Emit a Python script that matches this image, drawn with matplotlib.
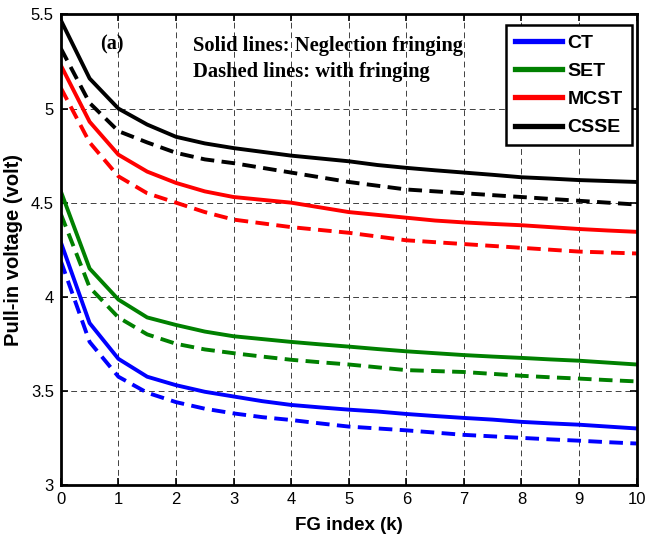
import numpy as np
import matplotlib.pyplot as plt

k = [0, 0.5, 1, 1.5, 2, 2.5, 3, 3.5, 4, 4.5, 5, 5.5, 6, 6.5, 7, 7.5, 8, 8.5, 9, 9.5, 10]

# solid lines: neglecting fringing
ct = [4.29, 3.86, 3.67, 3.575, 3.53, 3.495, 3.47, 3.445, 3.425, 3.412, 3.40, 3.39, 3.377, 3.366, 3.356, 3.347, 3.335, 3.327, 3.32, 3.31, 3.30]
set_ = [4.56, 4.15, 3.985, 3.89, 3.85, 3.815, 3.79, 3.775, 3.76, 3.747, 3.735, 3.722, 3.71, 3.70, 3.69, 3.682, 3.675, 3.667, 3.66, 3.65, 3.64]
mcst = [5.23, 4.93, 4.755, 4.665, 4.605, 4.56, 4.53, 4.515, 4.50, 4.475, 4.45, 4.435, 4.42, 4.405, 4.395, 4.387, 4.38, 4.37, 4.36, 4.352, 4.345]
csse = [5.47, 5.16, 5.0, 4.915, 4.85, 4.815, 4.79, 4.77, 4.75, 4.735, 4.72, 4.70, 4.685, 4.672, 4.66, 4.648, 4.635, 4.628, 4.62, 4.615, 4.61]

# dashed lines: with fringing
ct_f = [4.19, 3.76, 3.575, 3.49, 3.44, 3.405, 3.38, 3.36, 3.345, 3.327, 3.31, 3.30, 3.29, 3.278, 3.266, 3.258, 3.25, 3.242, 3.235, 3.227, 3.22]
set_f = [4.44, 4.05, 3.89, 3.80, 3.75, 3.72, 3.70, 3.682, 3.665, 3.652, 3.64, 3.625, 3.61, 3.605, 3.60, 3.59, 3.58, 3.572, 3.565, 3.557, 3.55]
mcst_f = [5.11, 4.82, 4.64, 4.55, 4.50, 4.45, 4.41, 4.39, 4.37, 4.355, 4.34, 4.32, 4.30, 4.29, 4.28, 4.27, 4.26, 4.25, 4.24, 4.235, 4.23]
csse_f = [5.32, 5.03, 4.88, 4.82, 4.765, 4.73, 4.71, 4.685, 4.66, 4.635, 4.61, 4.59, 4.57, 4.56, 4.55, 4.54, 4.53, 4.52, 4.51, 4.50, 4.49]

names = ['CT', 'SET', 'MCST', 'CSSE']
colors = ['#0000ff', '#008000', '#ff0000', '#000000']
solid = [ct, set_, mcst, csse]
dashed = [ct_f, set_f, mcst_f, csse_f]

fig = plt.figure(figsize=(6.47, 5.37), dpi=100)
ax = fig.add_axes([0.094, 0.097, 0.890, 0.876])

for name, c, s, d in zip(names, colors, solid, dashed):
    ax.plot(k, s, color=c, lw=2.8, label=name)
    ax.plot(k, d, color=c, lw=2.8, dashes=(3.5, 1.9))

ax.set_xlim(0, 10)
ax.set_ylim(3, 5.5)
ax.set_xticks(range(0, 11))
ax.set_yticks([3, 3.5, 4, 4.5, 5, 5.5])
ax.set_yticklabels(['3', '3.5', '4', '4.5', '5', '5.5'])
ax.grid(True, color='black', linestyle=(0, (6, 4)), lw=0.7, alpha=0.75)
for sp in ax.spines.values():
    sp.set_linewidth(2)
ax.tick_params(labelsize=12, direction='in', width=1.2, length=5, top=True, right=True, pad=5)
for lab in ax.get_xticklabels() + ax.get_yticklabels():
    lab.set_family('Liberation Sans')

ax.set_xlabel('FG index (k)', fontsize=13.5, fontweight='bold', family='Liberation Sans', labelpad=7)
ax.set_ylabel('Pull-in voltage (volt)', fontsize=14.5, fontweight='bold', family='Liberation Sans', labelpad=6)

ax.text(0.68, 5.34, '(a)', fontsize=14.5, fontweight='bold', family='Liberation Serif', va='center')
ax.text(2.3, 5.335, 'Solid lines: Neglection fringing', fontsize=14.8, fontweight='bold',
        family='Liberation Serif', va='center')
ax.text(2.3, 5.195, 'Dashed lines: with fringing', fontsize=14.8, fontweight='bold',
        family='Liberation Serif', va='center')

leg = ax.legend(loc='upper right', prop={'family': 'Liberation Sans', 'weight': 'bold', 'size': 14},
                handlelength=2.4, handletextpad=0.3, labelspacing=0.55, borderpad=0.45,
                fancybox=False, framealpha=1, edgecolor='black', bbox_to_anchor=(1.008, 0.998))
leg.get_frame().set_linewidth(1.8)
for line in leg.get_lines():
    line.set_linewidth(3.8)

fig.savefig('out.png', dpi=100)
